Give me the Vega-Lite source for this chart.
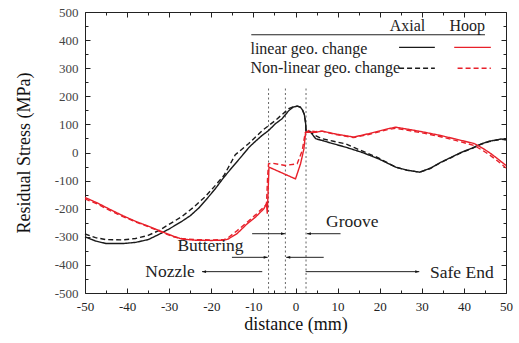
{
  "$schema": "https://vega.github.io/schema/vega-lite/v6.json",
  "width": 421,
  "height": 281,
  "autosize": {"type": "none"},
  "padding": {"left": 85, "top": 12, "right": 13, "bottom": 50},
  "background": "white",
  "config": {
    "view": {"stroke": null},
    "font": "Liberation Serif",
    "axis": {
      "grid": false,
      "domain": true,
      "ticks": true,
      "domainColor": "#222",
      "domainWidth": 1,
      "tickColor": "#222",
      "tickWidth": 1,
      "labelFlush": false,
      "labelOverlap": false,
      "labelFont": "Liberation Serif",
      "labelFontSize": 13,
      "titleFont": "Liberation Serif",
      "titleFontSize": 18,
      "titleFontWeight": "normal",
      "titleColor": "#111"
    }
  },
  "datasets": {
    "curves": [
      {"component": "Axial", "geometry": "linear", "x": -50, "y": -300},
      {"component": "Axial", "geometry": "linear", "x": -47.5, "y": -315},
      {"component": "Axial", "geometry": "linear", "x": -45, "y": -324},
      {"component": "Axial", "geometry": "linear", "x": -41, "y": -324},
      {"component": "Axial", "geometry": "linear", "x": -38, "y": -320},
      {"component": "Axial", "geometry": "linear", "x": -35, "y": -310},
      {"component": "Axial", "geometry": "linear", "x": -32.5, "y": -292},
      {"component": "Axial", "geometry": "linear", "x": -30, "y": -272},
      {"component": "Axial", "geometry": "linear", "x": -27, "y": -245},
      {"component": "Axial", "geometry": "linear", "x": -25, "y": -225},
      {"component": "Axial", "geometry": "linear", "x": -23, "y": -198},
      {"component": "Axial", "geometry": "linear", "x": -21, "y": -164},
      {"component": "Axial", "geometry": "linear", "x": -19, "y": -128},
      {"component": "Axial", "geometry": "linear", "x": -17, "y": -88},
      {"component": "Axial", "geometry": "linear", "x": -15, "y": -52},
      {"component": "Axial", "geometry": "linear", "x": -13, "y": -17},
      {"component": "Axial", "geometry": "linear", "x": -11, "y": 19},
      {"component": "Axial", "geometry": "linear", "x": -9.5, "y": 40},
      {"component": "Axial", "geometry": "linear", "x": -8, "y": 60},
      {"component": "Axial", "geometry": "linear", "x": -6.4, "y": 78},
      {"component": "Axial", "geometry": "linear", "x": -4.8, "y": 102},
      {"component": "Axial", "geometry": "linear", "x": -3.2, "y": 120},
      {"component": "Axial", "geometry": "linear", "x": -1.6, "y": 149},
      {"component": "Axial", "geometry": "linear", "x": -0.5, "y": 162},
      {"component": "Axial", "geometry": "linear", "x": 0.5, "y": 165},
      {"component": "Axial", "geometry": "linear", "x": 1.2, "y": 161},
      {"component": "Axial", "geometry": "linear", "x": 1.7, "y": 150},
      {"component": "Axial", "geometry": "linear", "x": 2.1, "y": 135},
      {"component": "Axial", "geometry": "linear", "x": 2.4, "y": 105},
      {"component": "Axial", "geometry": "linear", "x": 2.5, "y": 75},
      {"component": "Axial", "geometry": "linear", "x": 3.6, "y": 72},
      {"component": "Axial", "geometry": "linear", "x": 4.8, "y": 49},
      {"component": "Axial", "geometry": "linear", "x": 6.3, "y": 43},
      {"component": "Axial", "geometry": "linear", "x": 8.3, "y": 34},
      {"component": "Axial", "geometry": "linear", "x": 11.9, "y": 19},
      {"component": "Axial", "geometry": "linear", "x": 15.9, "y": 0},
      {"component": "Axial", "geometry": "linear", "x": 19.8, "y": -23},
      {"component": "Axial", "geometry": "linear", "x": 23.8, "y": -52},
      {"component": "Axial", "geometry": "linear", "x": 26.5, "y": -63},
      {"component": "Axial", "geometry": "linear", "x": 29.5, "y": -70},
      {"component": "Axial", "geometry": "linear", "x": 32, "y": -56},
      {"component": "Axial", "geometry": "linear", "x": 34.5, "y": -35},
      {"component": "Axial", "geometry": "linear", "x": 37, "y": -17},
      {"component": "Axial", "geometry": "linear", "x": 39.3, "y": 0},
      {"component": "Axial", "geometry": "linear", "x": 42, "y": 16},
      {"component": "Axial", "geometry": "linear", "x": 44, "y": 30},
      {"component": "Axial", "geometry": "linear", "x": 46, "y": 40},
      {"component": "Axial", "geometry": "linear", "x": 48.8, "y": 48},
      {"component": "Axial", "geometry": "linear", "x": 50, "y": 46},

      {"component": "Axial", "geometry": "nonlinear", "x": -50, "y": -290},
      {"component": "Axial", "geometry": "nonlinear", "x": -47.5, "y": -303},
      {"component": "Axial", "geometry": "nonlinear", "x": -45, "y": -310},
      {"component": "Axial", "geometry": "nonlinear", "x": -41, "y": -311},
      {"component": "Axial", "geometry": "nonlinear", "x": -38, "y": -306},
      {"component": "Axial", "geometry": "nonlinear", "x": -35, "y": -295},
      {"component": "Axial", "geometry": "nonlinear", "x": -32.5, "y": -278},
      {"component": "Axial", "geometry": "nonlinear", "x": -30.5, "y": -260},
      {"component": "Axial", "geometry": "nonlinear", "x": -27, "y": -228},
      {"component": "Axial", "geometry": "nonlinear", "x": -24.3, "y": -196},
      {"component": "Axial", "geometry": "nonlinear", "x": -21.5, "y": -158},
      {"component": "Axial", "geometry": "nonlinear", "x": -19.5, "y": -125},
      {"component": "Axial", "geometry": "nonlinear", "x": -17, "y": -82},
      {"component": "Axial", "geometry": "nonlinear", "x": -14.3, "y": -8},
      {"component": "Axial", "geometry": "nonlinear", "x": -11.1, "y": 32},
      {"component": "Axial", "geometry": "nonlinear", "x": -7.9, "y": 78},
      {"component": "Axial", "geometry": "nonlinear", "x": -4.8, "y": 114},
      {"component": "Axial", "geometry": "nonlinear", "x": -1.6, "y": 156},
      {"component": "Axial", "geometry": "nonlinear", "x": -0.5, "y": 163},
      {"component": "Axial", "geometry": "nonlinear", "x": 0.5, "y": 165},
      {"component": "Axial", "geometry": "nonlinear", "x": 1.2, "y": 161},
      {"component": "Axial", "geometry": "nonlinear", "x": 1.7, "y": 150},
      {"component": "Axial", "geometry": "nonlinear", "x": 2.1, "y": 135},
      {"component": "Axial", "geometry": "nonlinear", "x": 2.4, "y": 105},
      {"component": "Axial", "geometry": "nonlinear", "x": 2.5, "y": 80},
      {"component": "Axial", "geometry": "nonlinear", "x": 3.2, "y": 78},
      {"component": "Axial", "geometry": "nonlinear", "x": 4.5, "y": 62},
      {"component": "Axial", "geometry": "nonlinear", "x": 6.3, "y": 49},
      {"component": "Axial", "geometry": "nonlinear", "x": 9, "y": 40},
      {"component": "Axial", "geometry": "nonlinear", "x": 11.9, "y": 31},
      {"component": "Axial", "geometry": "nonlinear", "x": 14, "y": 17},
      {"component": "Axial", "geometry": "nonlinear", "x": 16.7, "y": 0},
      {"component": "Axial", "geometry": "nonlinear", "x": 19.8, "y": -20},
      {"component": "Axial", "geometry": "nonlinear", "x": 23.8, "y": -52},
      {"component": "Axial", "geometry": "nonlinear", "x": 26.5, "y": -63},
      {"component": "Axial", "geometry": "nonlinear", "x": 29.5, "y": -70},
      {"component": "Axial", "geometry": "nonlinear", "x": 32, "y": -57},
      {"component": "Axial", "geometry": "nonlinear", "x": 34.5, "y": -36},
      {"component": "Axial", "geometry": "nonlinear", "x": 37, "y": -18},
      {"component": "Axial", "geometry": "nonlinear", "x": 39.3, "y": -1},
      {"component": "Axial", "geometry": "nonlinear", "x": 42, "y": 15},
      {"component": "Axial", "geometry": "nonlinear", "x": 44, "y": 29},
      {"component": "Axial", "geometry": "nonlinear", "x": 46, "y": 39},
      {"component": "Axial", "geometry": "nonlinear", "x": 48.8, "y": 47},
      {"component": "Axial", "geometry": "nonlinear", "x": 50, "y": 45},

      {"component": "Hoop", "geometry": "linear", "x": -50, "y": -160},
      {"component": "Hoop", "geometry": "linear", "x": -47, "y": -180},
      {"component": "Hoop", "geometry": "linear", "x": -44, "y": -203},
      {"component": "Hoop", "geometry": "linear", "x": -41, "y": -225},
      {"component": "Hoop", "geometry": "linear", "x": -38, "y": -245},
      {"component": "Hoop", "geometry": "linear", "x": -35, "y": -262},
      {"component": "Hoop", "geometry": "linear", "x": -32, "y": -280},
      {"component": "Hoop", "geometry": "linear", "x": -29, "y": -298},
      {"component": "Hoop", "geometry": "linear", "x": -27, "y": -308},
      {"component": "Hoop", "geometry": "linear", "x": -24, "y": -312},
      {"component": "Hoop", "geometry": "linear", "x": -20, "y": -313},
      {"component": "Hoop", "geometry": "linear", "x": -17, "y": -312},
      {"component": "Hoop", "geometry": "linear", "x": -16, "y": -308},
      {"component": "Hoop", "geometry": "linear", "x": -13.9, "y": -289},
      {"component": "Hoop", "geometry": "linear", "x": -11.5, "y": -254},
      {"component": "Hoop", "geometry": "linear", "x": -9.5, "y": -230},
      {"component": "Hoop", "geometry": "linear", "x": -8.3, "y": -212},
      {"component": "Hoop", "geometry": "linear", "x": -7.5, "y": -200},
      {"component": "Hoop", "geometry": "linear", "x": -6.9, "y": -182},
      {"component": "Hoop", "geometry": "linear", "x": -6.7, "y": -218},
      {"component": "Hoop", "geometry": "linear", "x": -6.3, "y": -52},
      {"component": "Hoop", "geometry": "linear", "x": 0, "y": -94},
      {"component": "Hoop", "geometry": "linear", "x": 1.2, "y": -40},
      {"component": "Hoop", "geometry": "linear", "x": 2, "y": 13},
      {"component": "Hoop", "geometry": "linear", "x": 2.4, "y": 72},
      {"component": "Hoop", "geometry": "linear", "x": 4.8, "y": 72},
      {"component": "Hoop", "geometry": "linear", "x": 6.3, "y": 76},
      {"component": "Hoop", "geometry": "linear", "x": 9.5, "y": 66},
      {"component": "Hoop", "geometry": "linear", "x": 13.8, "y": 55},
      {"component": "Hoop", "geometry": "linear", "x": 17.4, "y": 67},
      {"component": "Hoop", "geometry": "linear", "x": 22.1, "y": 85},
      {"component": "Hoop", "geometry": "linear", "x": 23.8, "y": 90},
      {"component": "Hoop", "geometry": "linear", "x": 27, "y": 82},
      {"component": "Hoop", "geometry": "linear", "x": 30, "y": 74},
      {"component": "Hoop", "geometry": "linear", "x": 34, "y": 62},
      {"component": "Hoop", "geometry": "linear", "x": 38, "y": 48},
      {"component": "Hoop", "geometry": "linear", "x": 42.4, "y": 32},
      {"component": "Hoop", "geometry": "linear", "x": 44.5, "y": 15},
      {"component": "Hoop", "geometry": "linear", "x": 46.4, "y": -4},
      {"component": "Hoop", "geometry": "linear", "x": 48, "y": -22},
      {"component": "Hoop", "geometry": "linear", "x": 50, "y": -46},

      {"component": "Hoop", "geometry": "nonlinear", "x": -50, "y": -165},
      {"component": "Hoop", "geometry": "nonlinear", "x": -47, "y": -184},
      {"component": "Hoop", "geometry": "nonlinear", "x": -44, "y": -207},
      {"component": "Hoop", "geometry": "nonlinear", "x": -41, "y": -228},
      {"component": "Hoop", "geometry": "nonlinear", "x": -38, "y": -247},
      {"component": "Hoop", "geometry": "nonlinear", "x": -35, "y": -264},
      {"component": "Hoop", "geometry": "nonlinear", "x": -32, "y": -282},
      {"component": "Hoop", "geometry": "nonlinear", "x": -29, "y": -300},
      {"component": "Hoop", "geometry": "nonlinear", "x": -27, "y": -306},
      {"component": "Hoop", "geometry": "nonlinear", "x": -24, "y": -310},
      {"component": "Hoop", "geometry": "nonlinear", "x": -20, "y": -311},
      {"component": "Hoop", "geometry": "nonlinear", "x": -17, "y": -310},
      {"component": "Hoop", "geometry": "nonlinear", "x": -16, "y": -303},
      {"component": "Hoop", "geometry": "nonlinear", "x": -14, "y": -280},
      {"component": "Hoop", "geometry": "nonlinear", "x": -11.5, "y": -248},
      {"component": "Hoop", "geometry": "nonlinear", "x": -9.5, "y": -222},
      {"component": "Hoop", "geometry": "nonlinear", "x": -8.8, "y": -212},
      {"component": "Hoop", "geometry": "nonlinear", "x": -7.6, "y": -195},
      {"component": "Hoop", "geometry": "nonlinear", "x": -6.9, "y": -185},
      {"component": "Hoop", "geometry": "nonlinear", "x": -6.6, "y": -80},
      {"component": "Hoop", "geometry": "nonlinear", "x": -6.4, "y": -40},
      {"component": "Hoop", "geometry": "nonlinear", "x": -5.5, "y": -38},
      {"component": "Hoop", "geometry": "nonlinear", "x": -2.4, "y": -46},
      {"component": "Hoop", "geometry": "nonlinear", "x": 0.4, "y": -40},
      {"component": "Hoop", "geometry": "nonlinear", "x": 1.6, "y": 7},
      {"component": "Hoop", "geometry": "nonlinear", "x": 2.3, "y": 70},
      {"component": "Hoop", "geometry": "nonlinear", "x": 3.2, "y": 78},
      {"component": "Hoop", "geometry": "nonlinear", "x": 4.8, "y": 74},
      {"component": "Hoop", "geometry": "nonlinear", "x": 6.3, "y": 76},
      {"component": "Hoop", "geometry": "nonlinear", "x": 9.5, "y": 64},
      {"component": "Hoop", "geometry": "nonlinear", "x": 13.8, "y": 53},
      {"component": "Hoop", "geometry": "nonlinear", "x": 17.4, "y": 64},
      {"component": "Hoop", "geometry": "nonlinear", "x": 22.1, "y": 82},
      {"component": "Hoop", "geometry": "nonlinear", "x": 23.8, "y": 86},
      {"component": "Hoop", "geometry": "nonlinear", "x": 27, "y": 78},
      {"component": "Hoop", "geometry": "nonlinear", "x": 30, "y": 70},
      {"component": "Hoop", "geometry": "nonlinear", "x": 34, "y": 58},
      {"component": "Hoop", "geometry": "nonlinear", "x": 38, "y": 43},
      {"component": "Hoop", "geometry": "nonlinear", "x": 42.4, "y": 25},
      {"component": "Hoop", "geometry": "nonlinear", "x": 44.5, "y": 7},
      {"component": "Hoop", "geometry": "nonlinear", "x": 46.4, "y": -12},
      {"component": "Hoop", "geometry": "nonlinear", "x": 48, "y": -30},
      {"component": "Hoop", "geometry": "nonlinear", "x": 50, "y": -55}
    ],
    "legendLines": [
      {"component": "Axial", "geometry": "linear", "x": 24.6, "y": 374},
      {"component": "Axial", "geometry": "linear", "x": 33.1, "y": 374},
      {"component": "Hoop", "geometry": "linear", "x": 37.7, "y": 374},
      {"component": "Hoop", "geometry": "linear", "x": 46.4, "y": 374},
      {"component": "Axial", "geometry": "nonlinear", "x": 24.6, "y": 300},
      {"component": "Axial", "geometry": "nonlinear", "x": 33.1, "y": 300},
      {"component": "Hoop", "geometry": "nonlinear", "x": 38.5, "y": 300},
      {"component": "Hoop", "geometry": "nonlinear", "x": 46.4, "y": 300}
    ],
    "regions": [
      {"boundary": "buttering start", "x": -6.4, "ybottom": -500, "ytop": 232},
      {"boundary": "groove start", "x": -2.4, "ybottom": -500, "ytop": 232},
      {"boundary": "groove end", "x": 2.5, "ybottom": -500, "ytop": 232}
    ],
    "segments": [
      {"name": "legend underline", "x": -10.5, "xend": 45, "y": 419, "tip": "none"},
      {"name": "groove left", "x": -10.3, "xend": -2.5, "y": -289, "tip": "right"},
      {"name": "groove right", "x": 10.7, "xend": 2.7, "y": -289, "tip": "left"},
      {"name": "buttering left", "x": -15.1, "xend": -6.6, "y": -373, "tip": "right"},
      {"name": "buttering right", "x": 6.7, "xend": -2.2, "y": -373, "tip": "left"},
      {"name": "nozzle", "x": -7.9, "xend": -22.2, "y": -424, "tip": "left"},
      {"name": "safe end", "x": 2.4, "xend": 29.4, "y": -424, "tip": "right"}
    ],
    "labels": [
      {"kind": "header", "text": "Axial", "x": 26.6, "y": 449},
      {"kind": "header", "text": "Hoop", "x": 40.8, "y": 449},
      {"kind": "row", "text": "linear geo. change", "x": -10.7, "y": 370},
      {"kind": "row", "text": "Non-linear geo. change", "x": -10.7, "y": 302},
      {"kind": "note", "text": "Groove", "x": 13.5, "y": -249},
      {"kind": "note", "text": "Buttering", "x": -20.2, "y": -331},
      {"kind": "note", "text": "Nozzle", "x": -29.8, "y": -426},
      {"kind": "note", "text": "Safe End", "x": 39.5, "y": -430}
    ]
  },
  "layer": [
    {
      "data": {"name": "regions"},
      "mark": {"type": "rule", "color": "#666", "strokeWidth": 1, "strokeDash": [2, 2.5]},
      "encoding": {
        "x": {
          "field": "x", "type": "quantitative",
          "scale": {"domain": [-50, 50], "nice": false, "zero": false},
          "axis": {"orient": "top", "values": [-50,-40,-30,-20,-10,0,10,20,30,40,50], "labels": false, "title": null, "tickSize": -5}
        },
        "y": {
          "field": "ybottom", "type": "quantitative",
          "scale": {"domain": [-500, 500], "nice": false, "zero": false},
          "axis": {"orient": "right", "values": [-500,-400,-300,-200,-100,0,100,200,300,400,500], "labels": false, "title": null, "tickSize": -5}
        },
        "y2": {"field": "ytop"}
      }
    },
    {
      "mark": {"type": "rule", "color": "#444", "strokeWidth": 1},
      "encoding": {"y": {"datum": 0, "type": "quantitative", "axis": null}}
    },
    {
      "data": {"name": "curves"},
      "mark": {"type": "line", "strokeWidth": 1.4},
      "encoding": {
        "x": {
          "field": "x", "type": "quantitative",
          "axis": {"orient": "bottom", "values": [-50,-40,-30,-20,-10,0,10,20,30,40,50], "labelExpr": "'' + datum.value", "labelColor": "#222", "labelPadding": 12, "title": "distance (mm)", "titlePadding": 2, "tickSize": -5}
        },
        "y": {
          "field": "y", "type": "quantitative",
          "axis": {"orient": "left", "values": [-500,-400,-300,-200,-100,0,100,200,300,400,500], "labelExpr": "'' + datum.value", "labelColor": "#444", "labelPadding": 12, "title": "Residual Stress (MPa)", "titlePadding": 21, "tickSize": -5}
        },
        "color": {"field": "component", "type": "nominal", "scale": {"domain": ["Axial", "Hoop"], "range": ["#1a1a1a", "#e8202a"]}, "legend": null},
        "strokeDash": {"field": "geometry", "type": "nominal", "scale": {"domain": ["linear", "nonlinear"], "range": [[1, 0], [5, 3]]}, "legend": null}
      }
    },
    {
      "data": {"name": "legendLines"},
      "mark": {"type": "line", "strokeWidth": 1.4},
      "encoding": {
        "x": {"field": "x", "type": "quantitative", "axis": {"orient": "bottom", "values": [-45,-35,-25,-15,-5,5,15,25,35,45], "labels": false, "domain": false, "title": null, "tickSize": -3}},
        "y": {"field": "y", "type": "quantitative", "axis": {"orient": "left", "values": [-450,-350,-250,-150,-50,50,150,250,350,450], "labels": false, "domain": false, "title": null, "tickSize": -3}},
        "color": {"field": "component", "type": "nominal", "legend": null},
        "strokeDash": {"field": "geometry", "type": "nominal", "legend": null}
      }
    },
    {
      "data": {"name": "segments"},
      "mark": {"type": "rule", "color": "#222", "strokeWidth": 1},
      "encoding": {
        "x": {"field": "x", "type": "quantitative", "axis": {"orient": "top", "values": [-45,-35,-25,-15,-5,5,15,25,35,45], "labels": false, "domain": false, "title": null, "tickSize": -3}},
        "x2": {"field": "xend"},
        "y": {"field": "y", "type": "quantitative", "axis": {"orient": "right", "values": [-450,-350,-250,-150,-50,50,150,250,350,450], "labels": false, "domain": false, "title": null, "tickSize": -3}}
      }
    },
    {
      "data": {"name": "segments"},
      "transform": [{"filter": "datum.tip === 'right'"}],
      "mark": {"type": "point", "shape": "M0,0L-2,-0.7L-2,0.7Z", "filled": true, "color": "#111", "opacity": 1, "size": 16},
      "encoding": {
        "x": {"field": "xend", "type": "quantitative", "axis": null},
        "y": {"field": "y", "type": "quantitative", "axis": null}
      }
    },
    {
      "data": {"name": "segments"},
      "transform": [{"filter": "datum.tip === 'left'"}],
      "mark": {"type": "point", "shape": "M0,0L2,-0.7L2,0.7Z", "filled": true, "color": "#111", "opacity": 1, "size": 16},
      "encoding": {
        "x": {"field": "xend", "type": "quantitative", "axis": null},
        "y": {"field": "y", "type": "quantitative", "axis": null}
      }
    },
    {
      "data": {"name": "labels"},
      "transform": [{"filter": "datum.kind === 'note'"}],
      "mark": {"type": "text", "font": "Liberation Serif", "fontSize": 17.5, "color": "#222", "align": "center", "baseline": "middle"},
      "encoding": {
        "x": {"field": "x", "type": "quantitative", "axis": null},
        "y": {"field": "y", "type": "quantitative", "axis": null},
        "text": {"field": "text"}
      }
    },
    {
      "data": {"name": "labels"},
      "transform": [{"filter": "datum.kind === 'header'"}],
      "mark": {"type": "text", "font": "Liberation Serif", "fontSize": 16, "color": "#222", "align": "center", "baseline": "middle"},
      "encoding": {
        "x": {"field": "x", "type": "quantitative", "axis": null},
        "y": {"field": "y", "type": "quantitative", "axis": null},
        "text": {"field": "text"}
      }
    },
    {
      "data": {"name": "labels"},
      "transform": [{"filter": "datum.kind === 'row'"}],
      "mark": {"type": "text", "font": "Liberation Serif", "fontSize": 16, "color": "#222", "align": "left", "baseline": "middle"},
      "encoding": {
        "x": {"field": "x", "type": "quantitative", "axis": null},
        "y": {"field": "y", "type": "quantitative", "axis": null},
        "text": {"field": "text"}
      }
    }
  ],
  "resolve": {"axis": {"x": "independent", "y": "independent"}}
}
